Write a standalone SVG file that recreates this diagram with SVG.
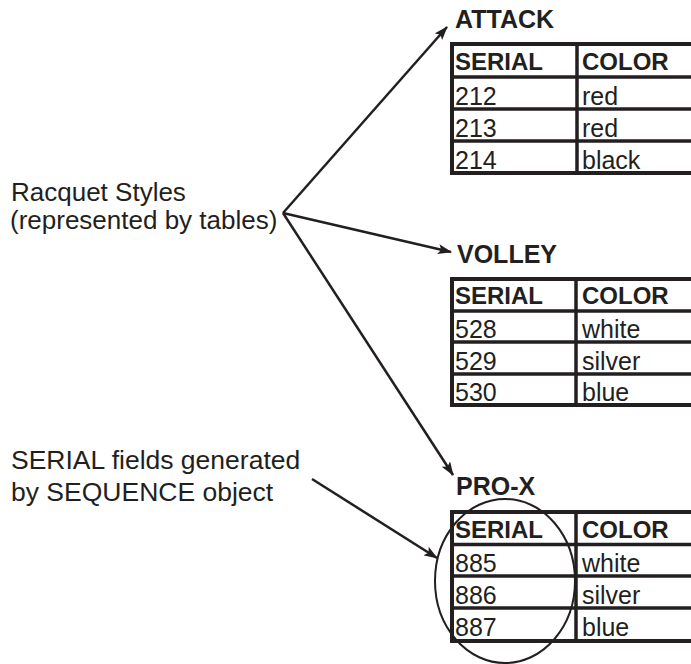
<svg xmlns="http://www.w3.org/2000/svg" width="691" height="664" viewBox="0 0 691 664">
<style>
.lbl{font-family:"Liberation Sans",Arial,sans-serif;font-size:26px;fill:#231f20}
.lbl2{font-family:"Liberation Sans",Arial,sans-serif;font-size:26.5px;fill:#231f20}
.ttl{font-family:"Liberation Sans",Arial,sans-serif;font-size:25px;font-weight:bold;fill:#231f20}
.hdr{font-family:"Liberation Sans",Arial,sans-serif;font-size:24px;font-weight:bold;fill:#231f20}
.cell{font-family:"Liberation Sans",Arial,sans-serif;font-size:25px;fill:#231f20}
.frame{fill:none;stroke:#231f20;stroke-width:4}
.sep{stroke:#231f20;stroke-width:3.5}
.conn{fill:none;stroke:#231f20;stroke-width:2.5}
</style>
<defs>
<marker id="arr" viewBox="0 0 14 10" refX="13" refY="5" markerWidth="14" markerHeight="10" markerUnits="userSpaceOnUse" orient="auto">
<path d="M0,0 L14,5 L0,10 L3,5 z" fill="#231f20"/>
</marker>
</defs>
<rect width="691" height="664" fill="#ffffff"/>

<g id="label-racquet">
<text class="lbl" x="11" y="201">Racquet Styles</text>
<text class="lbl" x="10" y="229">(represented by tables)</text>
</g>

<g id="label-serial">
<text class="lbl2" x="11" y="469">SERIAL fields generated</text>
<text class="lbl2" x="11" y="501">by SEQUENCE object</text>
</g>

<g id="table-attack">
<text class="ttl" x="455" y="28">ATTACK</text>
<rect class="frame" x="452" y="44" width="260" height="129"/>
<line class="sep" x1="452" y1="77" x2="700" y2="77"/>
<line class="sep" x1="452" y1="109" x2="700" y2="109"/>
<line class="sep" x1="452" y1="141" x2="700" y2="141"/>
<line class="sep" x1="577" y1="44" x2="577" y2="173"/>
<text class="hdr" x="455" y="70">SERIAL</text>
<text class="hdr" x="582" y="70">COLOR</text>
<text class="cell" x="455" y="105">212</text>
<text class="cell" x="582" y="105">red</text>
<text class="cell" x="455" y="137">213</text>
<text class="cell" x="582" y="137">red</text>
<text class="cell" x="455" y="169">214</text>
<text class="cell" x="582" y="169">black</text>
</g>

<g id="table-volley">
<text class="ttl" x="457" y="263">VOLLEY</text>
<rect class="frame" x="452" y="279" width="260" height="126"/>
<line class="sep" x1="452" y1="311" x2="700" y2="311"/>
<line class="sep" x1="452" y1="342" x2="700" y2="342"/>
<line class="sep" x1="452" y1="374" x2="700" y2="374"/>
<line class="sep" x1="576" y1="279" x2="576" y2="405"/>
<text class="hdr" x="455" y="304">SERIAL</text>
<text class="hdr" x="582" y="304">COLOR</text>
<text class="cell" x="455" y="338">528</text>
<text class="cell" x="582" y="338">white</text>
<text class="cell" x="455" y="370">529</text>
<text class="cell" x="582" y="370">silver</text>
<text class="cell" x="455" y="401">530</text>
<text class="cell" x="582" y="401">blue</text>
</g>

<g id="table-prox">
<text class="ttl" x="456" y="495">PRO-X</text>
<rect class="frame" x="452" y="512" width="260" height="129"/>
<line class="sep" x1="452" y1="544.5" x2="700" y2="544.5"/>
<line class="sep" x1="452" y1="576" x2="700" y2="576"/>
<line class="sep" x1="452" y1="608" x2="700" y2="608"/>
<line class="sep" x1="576" y1="512" x2="576" y2="641"/>
<text class="hdr" x="455" y="538">SERIAL</text>
<text class="hdr" x="582" y="538">COLOR</text>
<text class="cell" x="455" y="572">885</text>
<text class="cell" x="582" y="572">white</text>
<text class="cell" x="455" y="604">886</text>
<text class="cell" x="582" y="604">silver</text>
<text class="cell" x="455" y="636">887</text>
<text class="cell" x="582" y="636">blue</text>
</g>

<g id="highlight-ellipse">
<ellipse cx="505" cy="581" rx="70" ry="82" fill="none" stroke="#231f20" stroke-width="2"/>
</g>

<g id="connectors">
<line class="conn" x1="283" y1="213" x2="447" y2="27" marker-end="url(#arr)"/>
<line class="conn" x1="283" y1="213" x2="451" y2="252" marker-end="url(#arr)"/>
<line class="conn" x1="283" y1="213" x2="453" y2="475" marker-end="url(#arr)"/>
<line class="conn" x1="312" y1="479" x2="437" y2="558" marker-end="url(#arr)"/>
</g>
</svg>
